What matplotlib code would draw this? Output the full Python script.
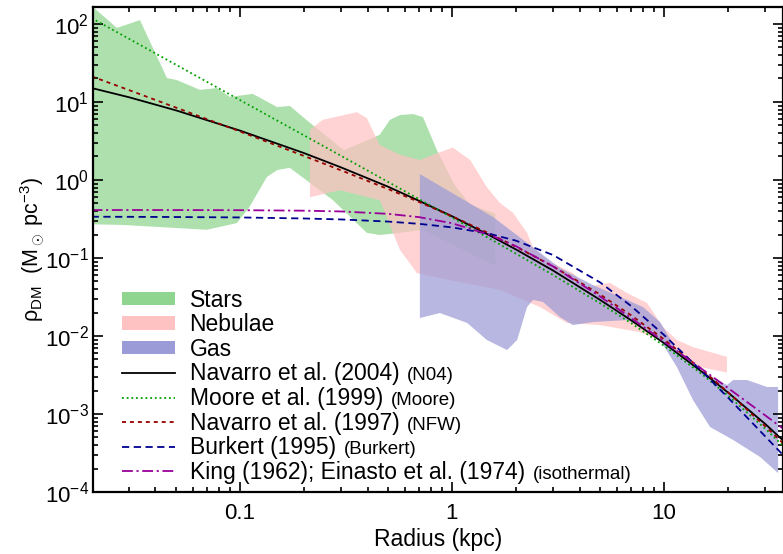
import matplotlib
matplotlib.use("Agg")
import matplotlib.pyplot as plt
from matplotlib.patches import Patch
from matplotlib.lines import Line2D

plt.rcParams['font.family'] = ['Liberation Sans', 'DejaVu Sans']
plt.rcParams['mathtext.fontset'] = 'custom'
plt.rcParams['mathtext.rm'] = 'Liberation Sans'
plt.rcParams['mathtext.it'] = 'Liberation Sans:italic'
plt.rcParams['mathtext.bf'] = 'Liberation Sans:bold'
plt.rcParams['axes.unicode_minus'] = False

# ---- observed bands (upper / lower envelopes), r in kpc, rho in Msun/pc^3
stars_up_r = [0.0203, 0.0263, 0.0338, 0.0453, 0.0504, 0.0648, 0.078, 0.0897, 0.115,
              0.150, 0.172, 0.214, 0.31, 0.457, 0.510, 0.569, 0.655, 0.730, 0.850,
              1.03, 1.22, 1.60]
stars_up = [165, 89, 112, 20.3, 19.1, 14.3, 15.1, 11.6, 12.7, 8.6, 8.9, 5.4, 2.4,
            3.8, 5.9, 6.8, 7.0, 6.4, 2.4, 0.86, 0.48, 0.37]
stars_lo_r = [0.0203, 0.0281, 0.0699, 0.0968, 0.111, 0.134, 0.150, 0.172, 0.214,
              0.275, 0.397, 0.457, 0.569, 0.730, 1.13, 1.60]
stars_lo = [0.27, 0.265, 0.23, 0.28, 0.45, 1.09, 1.34, 1.43, 0.92, 0.55, 0.21,
            0.197, 0.21, 0.23, 0.127, 0.08]

neb_up_r = [0.214, 0.246, 0.356, 0.397, 0.457, 0.569, 0.706, 0.850, 1.01, 1.22,
            1.46, 1.68, 1.94, 2.26, 2.41, 2.81, 3.72, 4.33, 5.56, 6.69, 8.32, 9.89,
            11.5, 13.7, 19.8]
neb_up = [4.4, 5.9, 7.4, 6.2, 2.8, 2.1, 1.8, 2.2, 2.6, 1.8, 0.81, 0.51, 0.38, 0.21,
          0.138, 0.094, 0.064, 0.0425, 0.048, 0.0356, 0.0265, 0.013, 0.0089, 0.0072,
          0.0054]
neb_lo_r = [0.214, 0.296, 0.457, 0.569, 0.684, 0.978, 1.68, 2.60, 3.13, 3.49, 4.99,
            7.70, 10.3, 12.8, 14.8, 19.8]
neb_lo = [0.6, 0.74, 0.55, 0.127, 0.064, 0.052, 0.039, 0.0235, 0.0175, 0.0147,
          0.0138, 0.0112, 0.0081, 0.0049, 0.0040, 0.0034]

gas_up_r = [0.706, 1.56, 2.33, 3.23, 4.62, 6.69, 7.96, 9.58, 11.5, 14.8, 19.8, 21.2,
            24.6, 30.6, 34.5]
gas_up = [1.19, 0.336, 0.147, 0.0744, 0.045, 0.029, 0.0235, 0.0151, 0.0066, 0.00367,
          0.00235, 0.00273, 0.00273, 0.00222, 0.00222]
gas_lo_r = [0.706, 0.878, 1.18, 1.46, 1.82, 2.03, 2.26, 2.41, 2.69, 3.23, 3.72, 4.62,
            6.69, 8.32, 9.58, 11.5, 13.7, 16.5, 21.2, 28.4, 34.5]
gas_lo = [0.017, 0.0197, 0.0147, 0.0089, 0.0066, 0.0089, 0.0235, 0.029, 0.0273,
          0.0175, 0.0138, 0.0151, 0.016, 0.0119, 0.0089, 0.0040, 0.00151, 0.00068,
          0.000464, 0.000281, 0.000175]

# ---- model profiles
model_r = [0.02, 0.03, 0.05, 0.1, 0.2, 0.3, 0.5, 0.7, 1, 1.5, 2, 3, 5, 7, 10, 15, 20,
           30, 37]
n04 = [15.1, 11.5, 7.8, 4.3, 2.22, 1.45, 0.82, 0.54, 0.343, 0.196, 0.129, 0.069,
       0.029, 0.0159, 0.0081, 0.00352, 0.00189, 0.000746, 0.00044]
moore = [118.6, 64.6, 30.0, 10.6, 3.75, 2.04, 0.944, 0.568, 0.331, 0.178, 0.114,
         0.0605, 0.0262, 0.0146, 0.0075, 0.00328, 0.00173, 0.000648, 0.000375]
nfw = [21.3, 14.2, 8.47, 4.19, 2.04, 1.33, 0.765, 0.522, 0.343, 0.206, 0.140, 0.078,
       0.034, 0.0184, 0.00905, 0.00374, 0.00191, 0.000696, 0.000405]
burkert = [0.338, 0.337, 0.335, 0.331, 0.321, 0.312, 0.293, 0.274, 0.247, 0.2045,
           0.167, 0.109, 0.0486, 0.0242, 0.0103, 0.00358, 0.00163, 0.000517,
           0.000285]
isothermal = [0.412, 0.412, 0.4115, 0.410, 0.404, 0.395, 0.368, 0.334, 0.279, 0.199,
              0.142, 0.078, 0.032, 0.017, 0.00848, 0.00382, 0.00216, 0.00096, 0.00063]

band_colors = ['#8fd58f', '#ffc2c2', '#9b9bd7']
band_names = ['Stars', 'Nebulae', 'Gas']
line_names = ['Navarro et al. (2004)', 'Moore et al. (1999)', 'Navarro et al. (1997)',
              'Burkert (1995)', 'King (1962); Einasto et al. (1974)']
line_tags = ['(N04)', '(Moore)', '(NFW)', '(Burkert)', '(isothermal)']

fig = plt.figure(figsize=(7.83, 5.54), dpi=100)
ax = fig.add_axes([93 / 783, 62 / 554, 689.5 / 783, 485 / 554])
ax.set_xscale('log')
ax.set_yscale('log')

bands = [(stars_up_r, stars_up, stars_lo_r, stars_lo),
         (neb_up_r, neb_up, neb_lo_r, neb_lo),
         (gas_up_r, gas_up, gas_lo_r, gas_lo)]
for (ru, vu, rl, vl), c in zip(bands, band_colors):
    ax.fill(ru + rl[::-1], vu + vl[::-1], color=c, alpha=0.72, lw=0)

styles = [dict(color='black', ls='-'),
          dict(color='#00a000', ls=(0, (1, 1.6))),
          dict(color='#990000', ls=(0, (2.2, 2.2))),
          dict(color='#000090', ls=(0, (4, 2.5))),
          dict(color='#990099', ls=(0, (6, 2, 1.2, 2)))]
for vals, st in zip([n04, moore, nfw, burkert, isothermal], styles):
    ax.plot(model_r, vals, lw=1.3, **st)

ax.set_xlim(0.0203, 36.2)
ax.set_ylim(1e-4, 165)
ax.set_xticks([0.1, 1, 10])
ax.set_xticklabels(['0.1', '1', '10'])
ax.tick_params(which='both', direction='in', top=True, right=True, width=1.2)
ax.tick_params(which='major', length=7.5)
ax.tick_params(which='minor', length=3.8)
ax.tick_params(axis='x', labelsize=16, pad=8)
ax.tick_params(axis='y', labelsize=16, pad=3)
for s in ax.spines.values():
    s.set_linewidth(1.6)

ax.set_xlabel('Radius (kpc)', fontsize=16.5, labelpad=3)
ax.set_ylabel(r'ρ$_{\mathrm{DM}}$  (M$_\odot$ pc$^{-3}$)', fontsize=15.5)
ax.yaxis.set_label_coords(-0.066, 0.5)

handles = [Patch(facecolor=c, edgecolor='none') for c in band_colors]
handles += [Line2D([], [], lw=1.3, **st) for st in styles]
leg = ax.legend(handles, band_names + line_names, loc='lower left',
                bbox_to_anchor=(0.042, 0.017), frameon=False, fontsize=16.5,
                handlelength=2.3, handleheight=0.52, handletextpad=0.65,
                labelspacing=0.07, borderpad=0.0, borderaxespad=0.0)

# smaller parenthetical tags after the line labels
fig.canvas.draw()
renderer = fig.canvas.get_renderer()
W, H = fig.bbox.width, fig.bbox.height
for txt, tag in zip(leg.get_texts()[3:], line_tags):
    bb = txt.get_window_extent(renderer)
    _, _, d = renderer.get_text_width_height_descent(txt.get_text(), txt.get_fontproperties(), ismath=False)
    _, _, d2 = renderer.get_text_width_height_descent('lp', txt.get_fontproperties(), ismath=False)
    base = bb.y0 + max(d, d2)
    fig.text((bb.x1 + 8) / W, base / H, tag, fontsize=13.5, va='baseline', ha='left')

fig.savefig('out.png', dpi=100)
